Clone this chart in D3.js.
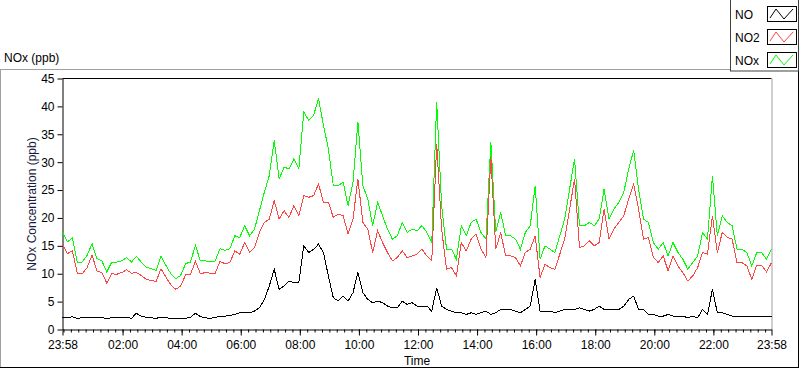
<!DOCTYPE html>
<html>
<head>
<meta charset="utf-8">
<script src="https://cdn.jsdelivr.net/npm/d3@7"></script>
<style>
  body { margin: 0; background: #fff; }
  svg text { font-family: "Liberation Sans", Arial, sans-serif; font-size: 12px; }
</style>
</head>
<body>
<div id="chart"></div>
<script>
// readings every 10 minutes starting at 23:58 (ppb)
const noVals = [
  2.2, 2.1, 2.3, 2.0, 2.1, 2.2, 2.1, 2.2, 2.1, 2.0,
  2.1, 2.2, 2.1, 2.2, 2.0, 2.9, 2.4, 2.2, 2.1, 2.0,
  2.2, 2.1, 2.0, 1.9, 1.9, 2.0, 2.2, 2.9, 2.3, 2.1,
  2.0, 2.2, 2.3, 2.4, 2.5, 2.7, 3.0, 3.0, 3.0, 3.3,
  3.9, 5.4, 7.8, 10.8, 7.2, 7.8, 8.7, 8.4, 8.4, 15.0,
  13.8, 14.4, 15.3, 13.8, 9.6, 5.7, 5.1, 6.0, 5.1, 6.6,
  10.2, 6.6, 5.4, 4.8, 5.1, 4.8, 4.2, 3.9, 3.9, 5.1,
  4.5, 4.8, 4.2, 4.2, 4.2, 3.3, 7.5, 4.2, 3.6, 3.3,
  3.0, 3.0, 2.7, 3.0, 2.7, 3.0, 3.3, 2.7, 3.0, 3.6,
  3.6, 3.6, 3.3, 3.0, 3.6, 4.2, 9.0, 3.3, 3.3, 3.3,
  3.0, 3.3, 3.6, 3.6, 3.6, 3.9, 3.6, 3.3, 3.6, 4.2,
  3.6, 3.6, 3.6, 3.6, 4.2, 5.4, 6.0, 3.6, 3.6, 2.7,
  2.7, 2.4, 2.4, 2.7, 2.4, 2.4, 2.4, 2.1, 2.4, 2.1,
  3.6, 2.7, 7.2, 3.0, 3.0, 2.7, 2.4, 2.4, 2.4, 2.4,
  2.4, 2.3, 2.3, 2.3, 2.4
];
const no2Vals = [
  15.3, 13.6, 14.1, 10.1, 10.0, 11.1, 13.3, 10.5, 10.2, 8.3,
  10.0, 9.9, 10.2, 10.7, 10.1, 10.2, 9.7, 9.0, 8.8, 8.6,
  10.9, 9.4, 8.0, 7.2, 7.8, 9.8, 9.9, 12.2, 10.0, 10.2,
  10.1, 10.1, 12.2, 11.8, 12.0, 14.1, 13.5, 15.6, 13.8, 14.7,
  17.4, 19.2, 19.8, 23.1, 19.8, 21.3, 20.1, 22.2, 20.4, 24.0,
  23.7, 24.0, 26.1, 22.8, 22.8, 20.1, 20.7, 20.4, 17.1, 19.8,
  27.0, 19.2, 18.0, 13.8, 17.7, 15.6, 13.8, 12.3, 12.9, 14.1,
  12.9, 13.2, 13.5, 14.4, 13.2, 12.3, 33.3, 18.0, 10.8, 11.1,
  9.6, 15.6, 14.1, 16.2, 17.1, 14.4, 12.9, 30.9, 14.4, 17.4,
  13.2, 13.2, 12.9, 11.4, 13.8, 14.4, 16.8, 9.3, 11.7, 11.1,
  10.8, 13.5, 16.2, 21.6, 27.0, 14.7, 15.0, 15.9, 15.0, 15.6,
  21.6, 16.2, 18.0, 19.2, 20.4, 23.4, 26.1, 21.6, 16.2, 16.5,
  12.9, 12.0, 13.2, 10.5, 13.2, 11.4, 10.2, 8.7, 9.6, 11.1,
  13.8, 13.5, 20.4, 13.8, 17.4, 16.5, 16.2, 12.0, 12.0, 11.4,
  9.0, 11.5, 11.5, 10.3, 12.0
];
const noxVals = [
  17.5, 15.7, 16.4, 12.1, 12.1, 13.3, 15.4, 12.7, 12.3, 10.3,
  12.1, 12.1, 12.3, 12.9, 12.1, 13.1, 12.1, 11.2, 10.9, 10.6,
  13.1, 11.5, 10.0, 9.1, 9.7, 11.8, 12.1, 15.1, 12.3, 12.3,
  12.1, 12.3, 14.5, 14.2, 14.5, 16.8, 16.5, 18.6, 16.8, 18.0,
  21.3, 24.6, 27.6, 33.9, 27.0, 29.1, 28.8, 30.6, 28.8, 39.0,
  37.5, 38.4, 41.4, 36.6, 32.4, 25.8, 25.8, 26.4, 22.2, 26.4,
  37.2, 25.8, 23.4, 18.6, 22.8, 20.4, 18.0, 16.2, 16.8, 19.2,
  17.4, 18.0, 17.7, 18.6, 17.4, 15.6, 40.8, 22.2, 14.4, 14.4,
  12.6, 18.6, 16.8, 19.2, 19.8, 17.4, 16.2, 33.6, 17.4, 21.0,
  16.8, 16.8, 16.2, 14.4, 17.4, 18.6, 25.8, 12.6, 15.0, 14.4,
  13.8, 16.8, 19.8, 25.2, 30.6, 18.6, 18.6, 19.2, 18.6, 19.8,
  25.2, 19.8, 21.6, 22.8, 24.6, 28.8, 32.1, 25.2, 19.8, 19.2,
  15.6, 14.4, 15.6, 13.2, 15.6, 13.8, 12.6, 10.8, 12.0, 13.2,
  17.4, 16.2, 27.6, 16.8, 20.4, 19.2, 18.6, 14.4, 14.4, 13.8,
  11.4, 13.8, 13.8, 12.6, 14.4
];
const seriesNames = ["NO", "NO2", "NOx"];
const seriesColors = ["#000000", "#ff4444", "#00ff00"];
const yTicks = [0, 5, 10, 15, 20, 25, 30, 35, 40, 45];
const startTime = new Date(2000, 0, 1, 23, 58);
const stepMinutes = 10;

const W = 800, H = 369;
const plot = { left: 62.5, right: 771.5, top: 78.5, bottom: 329.5 };

const svg = d3.select("#chart").append("svg")
  .attr("width", W)
  .attr("height", H);

const endTime = d3.timeMinute.offset(startTime, 1440);
const x = d3.scaleTime().domain([startTime, endTime]).range([plot.left, plot.right]);
const y = d3.scaleLinear().domain([0, 45]).range([plot.bottom, plot.top]);

// panel frame (sunken look)
svg.append("line").attr("x1", 0).attr("x2", 730).attr("y1", 69.5).attr("y2", 69.5).attr("stroke", "#a0a0a0");
svg.append("line").attr("x1", 0.5).attr("x2", 0.5).attr("y1", 69.5).attr("y2", 368).attr("stroke", "#a0a0a0");
svg.append("line").attr("x1", 0).attr("x2", 799).attr("y1", 367.5).attr("y2", 367.5).attr("stroke", "#000");
svg.append("line").attr("x1", 798.5).attr("x2", 798.5).attr("y1", 71).attr("y2", 368).attr("stroke", "#000");

// plot frame
svg.append("line").attr("x1", plot.left).attr("x2", plot.right).attr("y1", plot.top).attr("y2", plot.top).attr("stroke", "#000");
svg.append("line").attr("x1", plot.right + 0.5).attr("x2", plot.right + 0.5).attr("y1", plot.top).attr("y2", plot.bottom).attr("stroke", "#a0a0a0");

// y axis
const yAxis = svg.append("g")
  .attr("transform", `translate(${plot.left},0)`)
  .style("color", "#000")
  .call(d3.axisLeft(y).tickValues(yTicks).tickSize(5).tickSizeOuter(0).tickPadding(3));
yAxis.selectAll("text").style("font-size", "12px").style("font-family", "Liberation Sans, Arial, sans-serif");

// x axis: major labelled ticks every 2 h plus both ends, 15 minute minor ticks
const majorTicks = [startTime]
  .concat(d3.timeHour.every(2).range(d3.timeMinute.offset(startTime, 3), endTime))
  .concat([endTime]);
const minorTicks = d3.timeMinute.every(15).range(startTime, endTime);

svg.append("g")
  .attr("transform", `translate(0,${plot.bottom})`)
  .style("color", "#000")
  .call(d3.axisBottom(x).tickValues(minorTicks).tickSize(3).tickFormat(""))
  .call(g => g.select(".domain").remove());

const xAxis = svg.append("g")
  .attr("transform", `translate(0,${plot.bottom})`)
  .style("color", "#000")
  .call(d3.axisBottom(x).tickValues(majorTicks).tickSize(6).tickSizeOuter(0).tickPadding(5).tickFormat(d3.timeFormat("%H:%M")));
xAxis.selectAll("text").style("font-size", "12px").style("font-family", "Liberation Sans, Arial, sans-serif");

// series lines
const allSeries = [noVals, no2Vals, noxVals];
const line = d3.line()
  .x((d, i) => x(d3.timeMinute.offset(startTime, i * stepMinutes)))
  .y(d => y(d));

[2, 1, 0].forEach(k => {
  svg.append("path")
    .datum(allSeries[k])
    .attr("d", line)
    .attr("fill", "none")
    .attr("stroke", seriesColors[k])
    .attr("stroke-width", 1)
    .attr("shape-rendering", "crispEdges");
});

// titles
svg.append("text").attr("x", 4).attr("y", 62).text("NOx (ppb)");
svg.append("text")
  .attr("transform", `translate(36,${(plot.top + plot.bottom) / 2}) rotate(-90)`)
  .attr("text-anchor", "middle")
  .attr("fill", "#1a1a40")
  .text("NOx Concentration (ppb)");
svg.append("text")
  .attr("x", (plot.left + plot.right) / 2)
  .attr("y", 365)
  .attr("text-anchor", "middle")
  .text("Time");

// legend
const legend = svg.append("g");
legend.append("rect").attr("x", 730.5).attr("y", -1).attr("width", 68).attr("height", 72)
  .attr("fill", "#fff").attr("stroke", "#404040");
seriesNames.forEach((name, k) => {
  const cy = 14 + k * 23;
  legend.append("text").attr("x", 735).attr("y", cy + 4.5).text(name);
  legend.append("rect").attr("x", 767.5).attr("y", cy - 7.5).attr("width", 29).attr("height", 15)
    .attr("fill", "#fff").attr("stroke", "#000");
  const zig = [[770, cy + 4], [776, cy - 5], [784, cy + 5], [793, cy - 5]];
  legend.append("path")
    .attr("d", d3.line()(zig))
    .attr("fill", "none")
    .attr("stroke", seriesColors[k]);
});
</script>
</body>
</html>
